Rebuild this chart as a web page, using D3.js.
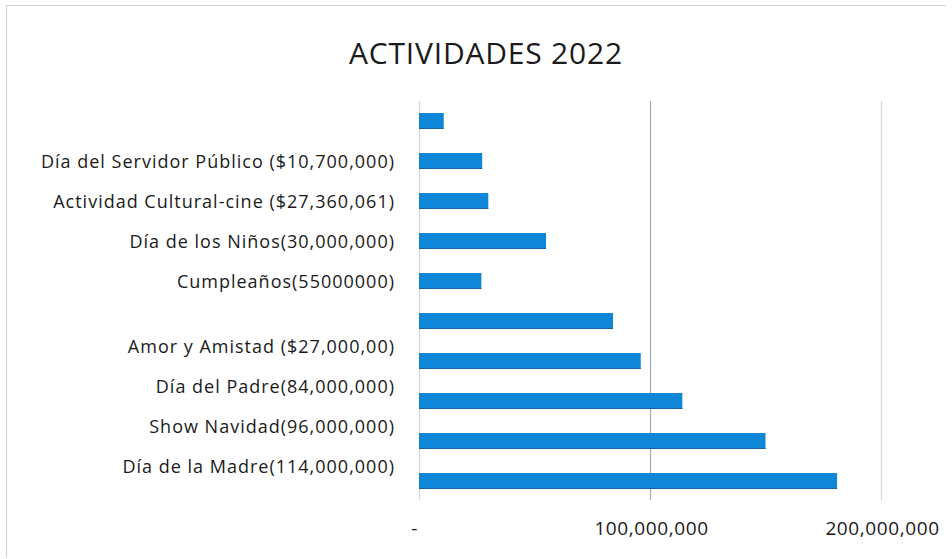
<!DOCTYPE html>
<html>
<head>
<meta charset="utf-8">
<script src="https://cdn.jsdelivr.net/npm/d3@7"></script>
<style>
  html, body { margin: 0; padding: 0; background: #fff; }
  svg { display: block; }
</style>
</head>
<body>
<svg id="chart" width="952" height="559"></svg>
<script>
// Activity budget, one bar per activity (top to bottom)
const activities = [
  "Día del Servidor Público",
  "Actividad Cultural-cine",
  "Día de los Niños",
  "Cumpleaños",
  "Amor y Amistad",
  "Día del Padre",
  "Show Navidad",
  "Día de la Madre",
  "Actividad 9",
  "Actividad 10"
];
const amounts = [
  10700000, 27360061, 30000000, 55000000, 27000000,
  84000000, 96000000, 114000000, 150000000, 181000000
];
// Category labels as written on the vertical axis
const axisLabels = [
  "Día del Servidor Público ($10,700,000)",
  "Actividad Cultural-cine ($27,360,061)",
  "Día de los Niños(30,000,000)",
  "Cumpleaños(55000000)",
  "Amor y Amistad ($27,000,00)",
  "Día del Padre(84,000,000)",
  "Show Navidad(96,000,000)",
  "Día de la Madre(114,000,000)"
];
const tickValues = [0, 100000000, 200000000];
const tickLabels = ["-", "100,000,000", "200,000,000"];
const title = "ACTIVIDADES 2022";

const svg = d3.select("#chart");
const font = "'Open Sans', Lato, sans-serif";

// chart frame
svg.append("path")
  .attr("d", "M946,5.5H6.5V557")
  .attr("fill", "none")
  .attr("stroke", "#d4d4d4")
  .attr("stroke-width", 1.2);

const plotTop = 101, plotBottom = 501;
const x = d3.scaleLinear().domain([0, 200000000]).range([419, 881]);
const y = d3.scaleBand()
  .domain(d3.range(activities.length))
  .range([plotTop, plotBottom])
  .paddingInner(0.6)
  .paddingOuter(0.3);

// vertical gridlines
svg.append("g")
  .selectAll("line")
  .data(tickValues)
  .join("line")
  .attr("x1", d => x(d) + 0.5)
  .attr("x2", d => x(d) + 0.5)
  .attr("y1", plotTop)
  .attr("y2", plotBottom - 1)
  .attr("stroke", (d, i) => i === 1 ? "#a8a8a8" : "#d6d6d6")
  .attr("stroke-width", 1.2);

// bars
svg.append("g")
  .selectAll("rect")
  .data(amounts)
  .join("rect")
  .attr("x", x(0))
  .attr("y", (d, i) => y(i))
  .attr("width", d => x(d) - x(0))
  .attr("height", y.bandwidth())
  .attr("fill", "#0f86d8");

// darker lower edge of each bar
svg.append("g")
  .selectAll("line")
  .data(amounts)
  .join("line")
  .attr("x1", x(0))
  .attr("x2", d => x(d))
  .attr("y1", (d, i) => y(i) + y.bandwidth() - 0.5)
  .attr("y2", (d, i) => y(i) + y.bandwidth() - 0.5)
  .attr("stroke", "#1764a8")
  .attr("stroke-width", 1);

// category labels: the upper four sit one row below their bar,
// the lower four two rows below and raised a little
svg.append("g")
  .selectAll("text")
  .data(axisLabels)
  .join("text")
  .attr("x", 395)
  .attr("y", (d, i) => i < 4
    ? y(i + 1) + y.bandwidth() / 2
    : y(i + 2) + y.bandwidth() / 2 - 15)
  .attr("text-anchor", "end")
  .attr("dominant-baseline", "central")
  .attr("font-family", font)
  .attr("font-size", 18)
  .attr("letter-spacing", 1)
  .attr("fill", "#1a1a1a")
  .text(d => d);

// value axis labels
const xAxis = d3.axisBottom(x)
  .tickValues(tickValues)
  .tickFormat((d, i) => tickLabels[i])
  .tickSize(0)
  .tickPadding(0);
const ax = svg.append("g")
  .attr("transform", "translate(0,528)")
  .call(xAxis);
ax.select(".domain").remove();
ax.selectAll("text")
  .attr("font-family", font)
  .attr("font-size", 19)
  .attr("letter-spacing", 0.6)
  .attr("fill", "#1a1a1a")
  .attr("dy", "0.35em")
  .attr("dx", (d, i) => i === 0 ? -5 : 1);

// title
svg.append("text")
  .attr("x", 486)
  .attr("y", 52)
  .attr("text-anchor", "middle")
  .attr("dominant-baseline", "central")
  .attr("font-family", font)
  .attr("font-size", 30)
  .attr("letter-spacing", 0.8)
  .attr("fill", "#1a1a1a")
  .text(title);
</script>
</body>
</html>
